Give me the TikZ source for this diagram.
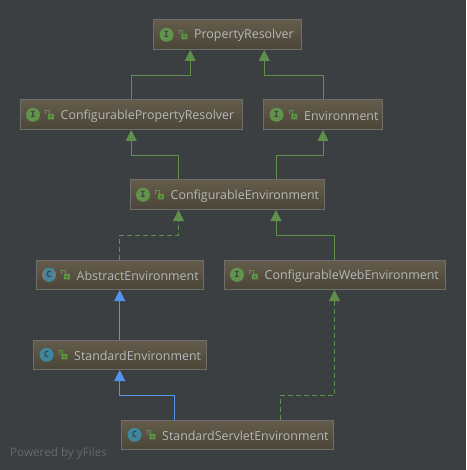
\documentclass[tikz,border=0pt]{standalone}
\usepackage{fontspec}
\setmainfont{Open Sans}
\newfontfamily\iconfont{DejaVu Sans Mono}
\usetikzlibrary{arrows.meta}
\definecolor{canvas}{HTML}{3C3F41}
\definecolor{boxtop}{HTML}{655C4B}
\definecolor{boxbot}{HTML}{4A4538}
\definecolor{boxline}{HTML}{6E6E6C}
\definecolor{labeltext}{HTML}{B4B8BA}
\definecolor{implgreen}{HTML}{5E8F4B}
\definecolor{extblue}{HTML}{5394EC}
\definecolor{ifacefill}{HTML}{62934D}
\definecolor{classfill}{HTML}{3F879E}
\definecolor{abstractrim}{HTML}{737B7F}
\definecolor{lockgreen}{HTML}{5A9642}
\definecolor{markfaint}{HTML}{66696B}
\tikzset{
    umlbox/.style={draw=boxline, line width=1pt, top color=boxtop, bottom color=boxbot,
        minimum height=29.5pt, inner sep=0pt},
    boxlabel/.style={anchor=west, inner sep=0pt, text=labeltext, font=\fontsize{12.4}{14}\selectfont},
    iconbase/.style={circle, minimum size=14pt, inner sep=0pt, text=black!75,
        font=\iconfont\bfseries\fontsize{8.5}{8.5}\selectfont},
    iface/.style={iconbase, fill=ifacefill},
    class/.style={iconbase, fill=classfill},
    abstract/.style={iconbase, fill=abstractrim, path picture={
        \fill[classfill] ([xshift=-4.5pt]path picture bounding box.south) rectangle ([xshift=4.5pt]path picture bounding box.north);}},
    implements/.style={implgreen, line width=0.9pt, -{Triangle[width=11pt,length=11pt]}},
    realizes/.style={implements, dash pattern=on 5pt off 3pt},
    extends/.style={implements, extblue},
    lockicon/.pic={
        \draw[lockgreen, line width=1.2pt] (-3.4,-0.5) -- (-3.4,-4) -- (0.3,-4) -- (0.3,-1);
        \fill[lockgreen, even odd rule] (-1.2,-0.8) rectangle (4.8,4.6) (0.9,1) rectangle (2.9,2.5);
    }
}
\begin{document}
\begin{tikzpicture}[x=1pt, y=-1pt]
    \useasboundingbox[fill=canvas] (0, 0) rectangle (466, 470);

    % Boxes
    \foreach \name/\cx/\cy/\bw/\kind/\letter/\txt in {
        pr/227.25/34.75/147.5/iface/I/PropertyResolver,
        cpr/131.25/114.75/222.5/iface/I/ConfigurablePropertyResolver,
        env/323/114.75/119/iface/I/Environment,
        cenv/227/194.75/194/iface/I/ConfigurableEnvironment,
        aenv/119.75/274.75/167.5/abstract/C/AbstractEnvironment,
        cwenv/334.5/274.75/221/iface/I/ConfigurableWebEnvironment,
        senv/119.75/354.75/172.5/class/C/StandardEnvironment,
        ssenv/227.25/434.75/211.5/class/C/StandardServletEnvironment} {
        \node[umlbox, minimum width=\bw pt] (\name) at (\cx, \cy) {};
        \node[\kind] (\name-icon) at ([xshift=13.5pt]\name.west) {\letter};
        \pic at ([xshift=29.5pt]\name.west) {lockicon};
        \node[boxlabel] (\name-label) at ([xshift=41pt, yshift=-1pt]\name.west) {\txt};
    }

    % Interfaces
    \draw[implements] (cpr.north) -- ++(0, -24.5) -| ([xshift=-37pt]pr.south);
    \draw[implements] (env.north) -- ++(0, -24.5) -| ([xshift=37pt]pr.south);
    \draw[implements] ([xshift=-48.5pt]cenv.north) -- ++(0, -24.5) -| (cpr.south);
    \draw[implements] ([xshift=49pt]cenv.north) -- ++(0, -24.5) -| (env.south);
    \draw[implements] (cwenv.north) -- ++(0, -24.5) -| ([xshift=49pt]cenv.south);

    % Realizations
    \draw[realizes] (aenv.north) -- ++(0, -24.5) -| ([xshift=-48.5pt]cenv.south);
    \draw[realizes] ([xshift=53.25pt]ssenv.north) -- ++(0, -24.5) -| (cwenv.south);

    % Class inheritance
    \draw[extends] (senv.north) -- (aenv.south);
    \draw[extends] ([xshift=-52.75pt]ssenv.north) -- ++(0, -24.5) -| (senv.south);

    % Watermark
    \node[anchor=west, inner sep=0pt, text=markfaint, font=\fontsize{11.7}{13}\selectfont] (mark) at (10, 453.5) {Powered by yFiles};
\end{tikzpicture}
\end{document}
